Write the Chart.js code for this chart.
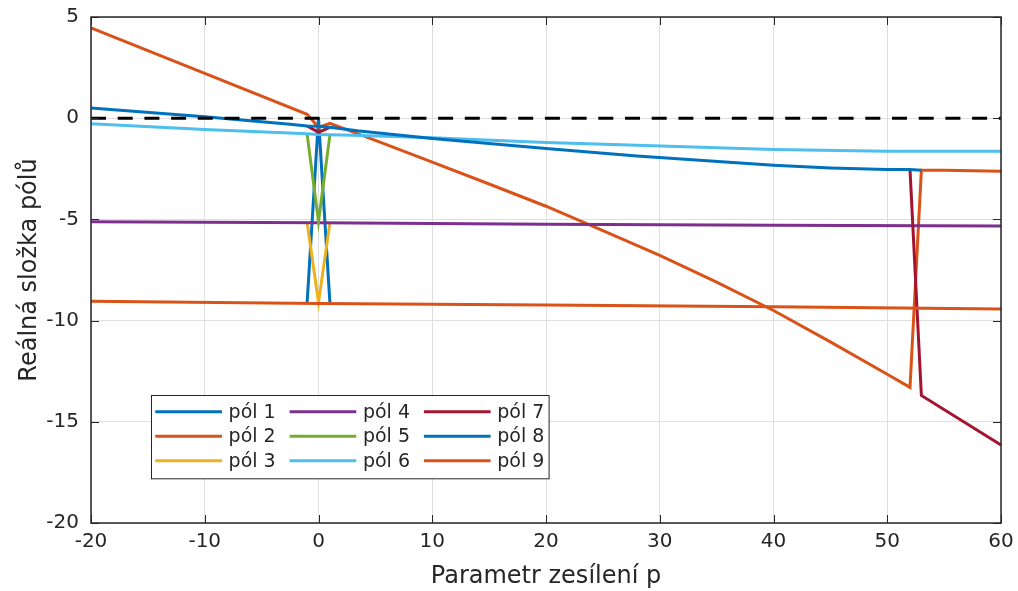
<!DOCTYPE html>
<html>
<head>
<meta charset="utf-8">
<title>Reálná složka pólů</title>
<script src="https://cdn.jsdelivr.net/npm/chart.js@4.4.1/dist/chart.umd.min.js"></script>
<style>
  html, body { margin: 0; padding: 0; background: #fff; }
  #wrap { width: 1018px; height: 591px; position: relative; }
</style>
</head>
<body>
<div id="wrap"><canvas id="poles"></canvas></div>
<script>
// Real parts of the closed-loop poles as the gain p changes
const pole1P = [-1, 0, 1];
const pole1Re = [-9.1, 0.0, -9.1];
const pole2P = [-20, -10, -1, 0, 1, 5, 10, 15, 20, 25, 30, 35, 40, 45, 50, 52, 53, 55, 60];
const pole2Re = [4.46, 2.21, 0.19, -0.45, -0.25, -1.1, -2.17, -3.25, -4.35, -5.55, -6.78, -8.1, -9.5, -11.05, -12.65, -13.3, -2.57, -2.57, -2.62];
const pole3P = [-1, 0, 1];
const pole3Re = [-5.15, -9.1, -5.17];
const pole4P = [-20, 0, 20, 40, 60];
const pole4Re = [-5.12, -5.17, -5.24, -5.29, -5.33];
const pole5P = [-1, 0, 1];
const pole5Re = [-0.8, -5.1, -0.85];
const pole6P = [-20, -10, -1, 0, 1, 3, 10, 20, 28, 40, 50, 60];
const pole6Re = [-0.27, -0.56, -0.77, -0.8, -0.82, -0.84, -0.96, -1.2, -1.34, -1.55, -1.63, -1.63];
const pole7P = [-1, 0, 1, 2, 52, 53, 60];
const pole7Re = [-0.38, -0.7, -0.45, null, -2.54, -13.7, -16.15];
const pole8P = [-20, -10, -2.5, -1, 0, 1, 3.4, 10, 20, 28, 40, 45, 50, 52, 53];
const pole8Re = [0.5, 0.07, -0.3, -0.38, -0.4, -0.45, -0.62, -1.0, -1.5, -1.87, -2.33, -2.46, -2.54, -2.54, -2.57];
const pole9P = [-20, 0, 20, 40, 60];
const pole9Re = [-9.05, -9.15, -9.23, -9.32, -9.43];

const poleP = [pole1P, pole2P, pole3P, pole4P, pole5P, pole6P, pole7P, pole8P, pole9P];
const poleRe = [pole1Re, pole2Re, pole3Re, pole4Re, pole5Re, pole6Re, pole7Re, pole8Re, pole9Re];
const poleNames = ['pól 1', 'pól 2', 'pól 3', 'pól 4', 'pól 5', 'pól 6', 'pól 7', 'pól 8', 'pól 9'];
const poleColors = ['#0072BD', '#D95319', '#EDB120', '#7E2F8E', '#77AC30', '#4DBEEE', '#A2142F', '#0072BD', '#D95319'];

const xTicks = [-20, -10, 0, 10, 20, 30, 40, 50, 60];
const yTicks = [5, 0, -5, -10, -15, -20];

const FONT = 'DejaVu Sans';
const INK = '#262626';

const datasets = poleP.map((ps, i) => ({
    label: poleNames[i],
    data: ps.map((p, k) => ({ x: p, y: poleRe[i][k] })),
    borderColor: poleColors[i],
    backgroundColor: poleColors[i],
    borderWidth: 3,
    pointRadius: 0,
    fill: false,
    order: 9 - i // later poles sit on top
}));

// zero line
datasets.push({
    label: 'nula',
    data: [{ x: xTicks[0], y: 0 }, { x: xTicks[xTicks.length - 1], y: 0 }],
    borderColor: '#000',
    borderWidth: 3,
    borderDash: [15, 11.7],
    pointRadius: 0,
    order: -1
});

// box, inward ticks and the 3x3 legend
const framePlugin = {
    id: 'frame',
    afterDraw(chart) {
        const { ctx, chartArea: a, scales: { x, y } } = chart;
        const tickLen = 8;
        ctx.save();
        ctx.strokeStyle = INK;
        ctx.lineWidth = 1;
        ctx.beginPath();
        xTicks.forEach(v => {
            const px = Math.round(x.getPixelForValue(v)) + 0.5;
            ctx.moveTo(px, a.bottom); ctx.lineTo(px, a.bottom - tickLen);
            ctx.moveTo(px, a.top); ctx.lineTo(px, a.top + tickLen);
        });
        yTicks.forEach(v => {
            const py = Math.round(y.getPixelForValue(v)) + 0.5;
            ctx.moveTo(a.left, py); ctx.lineTo(a.left + tickLen, py);
            ctx.moveTo(a.right, py); ctx.lineTo(a.right - tickLen, py);
        });
        ctx.stroke();
        ctx.lineWidth = 1.5;
        ctx.strokeRect(a.left, a.top, a.right - a.left, a.bottom - a.top);

        // legend
        const lx = a.left + 60, ly = a.top + 378, lw = 397.6, lh = 83.3;
        ctx.fillStyle = '#fff';
        ctx.fillRect(lx, ly, lw, lh);
        ctx.lineWidth = 1;
        ctx.strokeStyle = INK;
        ctx.strokeRect(lx + 0.5, ly + 0.5, lw, lh);
        ctx.font = '19px "' + FONT + '"';
        ctx.textBaseline = 'middle';
        ctx.textAlign = 'left';
        poleNames.forEach((name, i) => {
            const col = Math.floor(i / 3), row = i % 3;
            const cx = lx + 4.3 + col * 134.3;
            const cy = ly + 16.7 + row * 24.5;
            ctx.strokeStyle = poleColors[i];
            ctx.lineWidth = 3;
            ctx.beginPath();
            ctx.moveTo(cx, cy); ctx.lineTo(cx + 66.7, cy);
            ctx.stroke();
            ctx.fillStyle = INK;
            ctx.fillText(name, cx + 73.3, cy + 1);
        });
        ctx.restore();
    }
};

new Chart(document.getElementById('poles').getContext('2d'), {
    type: 'line',
    data: { datasets: datasets },
    options: {
        responsive: true,
        maintainAspectRatio: false,
        animation: false,
        layout: { padding: { left: 0, right: 17, top: 17, bottom: 0 } },
        plugins: {
            legend: { display: false },
            tooltip: { enabled: false }
        },
        elements: { line: { tension: 0 } },
        scales: {
            x: {
                type: 'linear',
                min: xTicks[0],
                max: xTicks[xTicks.length - 1],
                afterFit: s => { s.height = 68; s.paddingLeft = 0; s.paddingRight = 0; },
                afterBuildTicks: s => { s.ticks = xTicks.map(v => ({ value: v })); },
                grid: { color: '#dfdfdf', lineWidth: 1, drawTicks: false },
                border: { display: false },
                ticks: { padding: 7, color: INK, maxRotation: 0, font: { family: FONT, size: 20 } },
                title: { display: true, text: 'Parametr zesílení p', color: INK, padding: 0, font: { family: FONT, size: 24 } }
            },
            y: {
                type: 'linear',
                min: yTicks[yTicks.length - 1],
                max: yTicks[0],
                afterFit: s => { s.width = 91; s.paddingTop = 0; s.paddingBottom = 0; },
                afterBuildTicks: s => { s.ticks = yTicks.slice().reverse().map(v => ({ value: v })); },
                grid: { color: '#dfdfdf', lineWidth: 1, drawTicks: false },
                border: { display: false },
                ticks: { padding: 12, color: INK, font: { family: FONT, size: 20 } },
                title: { display: true, text: 'Reálná složka pólů', color: INK, padding: { top: 15 }, font: { family: FONT, size: 24 } }
            }
        }
    },
    plugins: [framePlugin]
});
</script>
</body>
</html>
